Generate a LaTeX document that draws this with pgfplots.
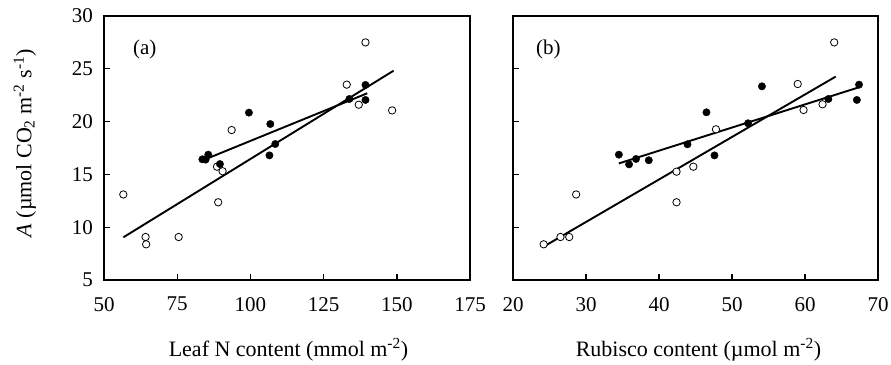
\documentclass[border=0pt]{standalone}
\usepackage{pgfplots}
\pgfplotsset{compat=1.18}
\usepackage{fontspec}
\setmainfont{Liberation Serif}

\newcommand{\tickfont}{\fontsize{21bp}{24bp}\selectfont}
\newcommand{\lblfont}{\fontsize{22bp}{26bp}\selectfont}

\pgfplotsset{
  panel/.style={
    scale only axis,
    width=366bp, height=264bp,
    ymin=5, ymax=30, ytick={5,10,...,30},
    tick align=inside, tick pos=left,
    major tick length=6bp,
    every tick/.style={line width=1.4bp, black},
    axis line style={line width=1.8bp},
    /pgf/number format/assume math mode=true,
    ticklabel style={font=\tickfont},
    xticklabel style={inner sep=0pt, anchor=north, yshift=-17bp},
    yticklabel style={inner sep=0pt, anchor=east, xshift=-11bp},
    label style={font=\lblfont},
    xlabel style={at={(axis description cs:0.504,-0.288)}, anchor=base},
    clip=false,
  },
  openpt/.style={only marks, mark=*, mark size=3.7bp,
    mark options={fill=white, draw=black, line width=0.8bp}},
  fillpt/.style={only marks, mark=*, mark size=3.7bp,
    mark options={fill=black, draw=black}},
  fitline/.style={no marks, line width=1.9bp, black},
}

\begin{document}
\begin{tikzpicture}[x=1bp, y=1bp]
\useasboundingbox (0,0) rectangle (891,364);

% (a) photosynthesis vs leaf nitrogen
\begin{axis}[panel,
  at={(104bp,84bp)}, anchor=south west,
  xmin=50, xmax=175, xtick={50,75,...,175},
  xlabel={Leaf N content (mmol m\textsuperscript{-2})},
  ylabel={\textit{A} (µmol CO\textsubscript{2} m\textsuperscript{-2} s\textsuperscript{-1})},
  ylabel style={at={(axis description cs:-0.216,0.518)}, anchor=center, rotate=0},
]
\addplot[fitline] coordinates {(56.6,9.04) (148.9,24.82)};
\addplot[fitline] coordinates {(84.6,16.43) (139.9,22.68)};
\addplot[openpt] coordinates {
  (56.6,13.1) (64.2,9.07) (64.4,8.38) (75.5,9.07) (89.0,12.36)
  (88.6,15.73) (90.5,15.3) (93.6,19.2) (132.9,23.5) (137.0,21.6)
  (139.3,27.5) (148.4,21.06)};
\addplot[fillpt] coordinates {
  (83.6,16.43) (84.7,16.4) (85.6,16.87) (89.6,15.98) (99.5,20.85)
  (106.8,19.77) (106.5,16.8) (108.5,17.88) (133.8,22.14) (139.3,23.47)
  (139.3,22.05)};
\node[anchor=base west, inner sep=0pt, font=\tickfont]
  at (rel axis cs:0.079,0.856) {(a)};
\end{axis}

% (b) photosynthesis vs Rubisco
\begin{axis}[panel,
  at={(513bp,84bp)}, anchor=south west, width=365bp,
  xmin=20, xmax=70, xtick={20,30,...,70},
  yticklabels={},
  xlabel={Rubisco content (µmol m\textsuperscript{-2})},
  xlabel style={at={(axis description cs:0.508,-0.288)}},
]
\addplot[fitline] coordinates {(24.2,8.16) (64.2,24.26)};
\addplot[fitline] coordinates {(34.5,16.04) (67.4,23.25)};
\addplot[openpt] coordinates {
  (24.2,8.38) (26.5,9.07) (27.7,9.07) (28.65,13.1) (42.4,15.26)
  (42.4,12.36) (44.7,15.73) (47.8,19.27) (59.0,23.56) (59.8,21.1)
  (62.4,21.64) (64.0,27.5)};
\addplot[fillpt] coordinates {
  (34.5,16.87) (35.9,15.95) (36.85,16.46) (38.6,16.34) (43.9,17.85)
  (46.5,20.88) (47.6,16.8) (52.2,19.84) (54.1,23.34) (63.2,22.14)
  (67.1,22.05) (67.4,23.5)};
\node[anchor=base west, inner sep=0pt, font=\tickfont]
  at (rel axis cs:0.063,0.856) {(b)};
\end{axis}
\end{tikzpicture}
\end{document}
